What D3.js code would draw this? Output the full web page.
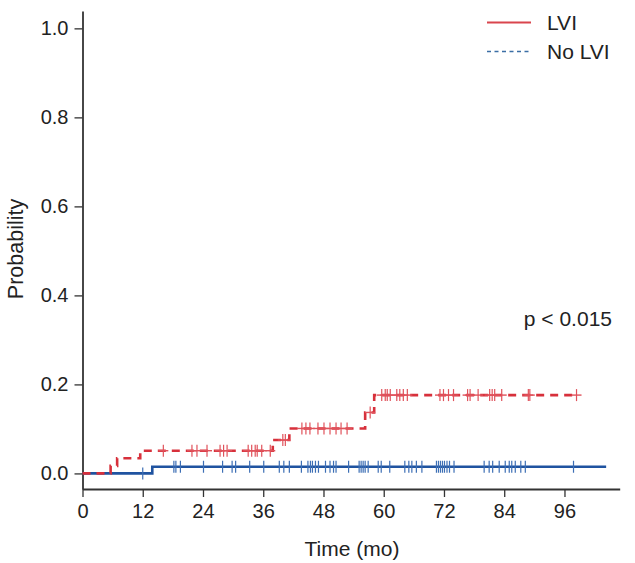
<!DOCTYPE html>
<html>
<head>
<meta charset="utf-8">
<script src="https://cdn.jsdelivr.net/npm/d3@7"></script>
<style>
  html, body { margin: 0; padding: 0; background: #fff; }
  svg { display: block; font-family: "Liberation Sans", Arial, Helvetica, sans-serif; }
</style>
</head>
<body>
<svg id="chart" width="635" height="563"></svg>
<script>
// ---- data ----
const xTicks = [0, 12, 24, 36, 48, 60, 72, 84, 96];
const yTicks = [0, 0.2, 0.4, 0.6, 0.8, 1.0];
const seriesNames = ["LVI", "No LVI"];

// LVI (red, dashed) cumulative probability steps
const lviTimes = [0, 5.6, 6.9, 11.5, 37.9, 41.2, 56.3, 58.1, 98.4];
const lviProb  = [0, 0.017, 0.034, 0.051, 0.075, 0.101, 0.137, 0.176, 0.176];
const lviCensor = [16.1, 21.8, 22.8, 24.8, 27.4, 28.1, 28.8, 33.0, 33.7, 34.4, 34.8, 35.7, 37.4,
  39.9, 40.4, 43.7, 44.5, 45.3, 46.9, 48.1, 49.3, 50.5, 51.5, 52.7, 57.3,
  59.6, 60.3, 60.7, 61.3, 62.6, 63.2, 63.9, 64.7, 71.2, 71.9, 72.9, 73.9,
  76.7, 77.2, 78.8, 81.1, 81.6, 82.1, 83.5, 88.8, 89.1, 98.4];

// No LVI (blue, solid)
const noLviTimes = [0, 13.9, 104.3];
const noLviProb  = [0, 0.015, 0.015];
const noLviCensor = [12.0, 18.2, 18.6, 19.5, 24.1, 27.9, 29.8, 30.5, 33.3, 36.1, 39.2, 40.1, 41.2,
  43.6, 44.9, 45.4, 45.8, 46.4, 47.0, 48.4, 49.3, 50.0, 50.5, 53.0, 55.1, 55.5, 55.9, 56.3, 56.9,
  58.9, 59.5, 61.2, 64.2, 65.0, 65.6, 66.5, 67.6, 70.5, 70.9, 71.3, 71.7, 72.1, 72.6, 73.1, 74.0,
  80.0, 81.0, 81.7, 83.0, 84.2, 85.0, 85.5, 86.2, 87.3, 88.2, 97.8];

const pText = "p < 0.015";

// ---- drawing ----
const svg = d3.select("#chart");
const red = "#d7303b", blue = "#1f53a0";
const axisColor = "#333";

const x = d3.scaleLinear().domain([0, 107]).range([82.5, 619.7]);
const y = d3.scaleLinear().domain([-0.035, 1.039]).range([489, 11]);

// axes
const xAxis = svg.append("g").attr("transform", "translate(0,489)")
  .call(d3.axisBottom(x).tickValues(xTicks).tickSize(8).tickSizeOuter(0).tickPadding(7).tickFormat(d3.format("d")));
const yAxis = svg.append("g").attr("transform", "translate(82.5,0)")
  .call(d3.axisLeft(y).tickValues(yTicks).tickSize(8).tickSizeOuter(0).tickPadding(6).tickFormat(d3.format(".1f")));
[xAxis, yAxis].forEach(g => {
  g.select(".domain").attr("stroke", axisColor).attr("stroke-width", 1.8);
  g.selectAll(".tick line").attr("stroke", axisColor).attr("stroke-width", 1.3);
  g.selectAll(".tick text").attr("fill", "#222").style("font-size", "20px")
    .style("font-family", "'Liberation Sans', Arial, sans-serif");
});

// axis titles
svg.append("text").attr("x", 352).attr("y", 556).attr("text-anchor", "middle")
  .attr("fill", "#222").style("font-size", "21px").text("Time (mo)");
svg.append("text").attr("transform", "translate(23,249) rotate(-90)").attr("text-anchor", "middle")
  .attr("fill", "#222").style("font-size", "21.5px").text("Probability");

// step helper
function stepAt(times, probs, t) {
  let v = probs[0];
  for (let i = 0; i < times.length; i++) { if (times[i] <= t) v = probs[i]; }
  return v;
}
const line = d3.line().x(d => x(d[0])).y(d => y(d[1])).curve(d3.curveStepAfter);

// blue curve
svg.append("path").datum(noLviTimes.map((t, i) => [t, noLviProb[i]]))
  .attr("d", line).attr("fill", "none").attr("stroke", blue).attr("stroke-width", 2.6);
svg.append("g").selectAll("line").data(noLviCensor).join("line")
  .attr("x1", d => x(d)).attr("x2", d => x(d))
  .attr("y1", d => y(stepAt(noLviTimes, noLviProb, d)) - 6)
  .attr("y2", d => y(stepAt(noLviTimes, noLviProb, d)) + 6)
  .attr("stroke", "#3d6fb5").attr("stroke-width", 1.2);

// red curve
svg.append("path").datum(lviTimes.map((t, i) => [t, lviProb[i]]))
  .attr("d", line).attr("fill", "none").attr("stroke", red).attr("stroke-width", 2.6)
  .attr("stroke-dasharray", "8,6");
const rc = svg.append("g").selectAll("g").data(lviCensor).join("g")
  .attr("transform", d => `translate(${x(d)},${y(stepAt(lviTimes, lviProb, d))})`);
rc.append("line").attr("x1", 0).attr("x2", 0).attr("y1", -6).attr("y2", 6)
  .attr("stroke", "#e0525b").attr("stroke-width", 1.2);
rc.append("line").attr("x1", -5).attr("x2", 5).attr("y1", 0).attr("y2", 0)
  .attr("stroke", "#e0525b").attr("stroke-width", 1.4);

// legend
const legend = svg.append("g");
seriesNames.forEach((name, i) => {
  const ly = 22.5 + i * 29;
  legend.append("line").attr("x1", 487).attr("x2", 531).attr("y1", ly).attr("y2", ly)
    .attr("stroke", i === 0 ? "#d9454d" : "#3b6ea5")
    .attr("stroke-width", i === 0 ? 2 : 1.4)
    .attr("stroke-dasharray", i === 0 ? null : "4,3.5");
  legend.append("text").attr("x", 547).attr("y", ly + 7.5).attr("fill", "#222")
    .style("font-size", "21px").text(name);
});

// p-value
svg.append("text").attr("x", 612).attr("y", 326).attr("text-anchor", "end")
  .attr("fill", "#222").style("font-size", "21px").text(pText);
</script>
</body>
</html>
